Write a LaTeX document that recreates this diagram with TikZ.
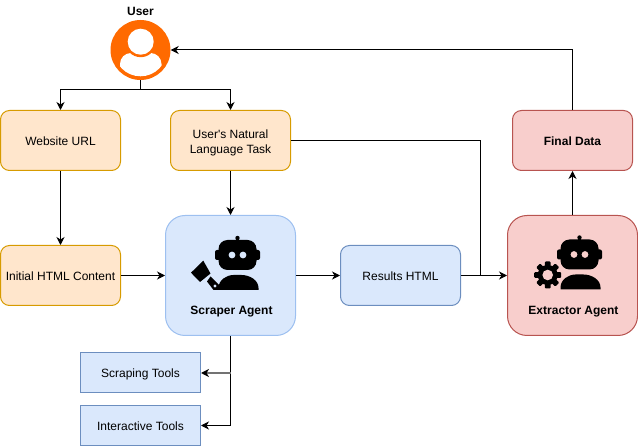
\documentclass[tikz,border=0pt]{standalone}
\usepackage{fontspec}
\setmainfont{Liberation Sans}
\usetikzlibrary{arrows.meta}
\definecolor{inputfill}{HTML}{FFE6CC}
\definecolor{inputline}{HTML}{D79B00}
\definecolor{bluefill}{HTML}{DAE8FC}
\definecolor{blueline}{HTML}{6C8EBF}
\definecolor{agentline}{HTML}{9DC0F0}
\definecolor{redfill}{HTML}{F8CECC}
\definecolor{redline}{HTML}{B85450}
\definecolor{useroange}{HTML}{FF6A00}
\tikzset{
    box/.style={draw, line width=1pt, minimum width=120pt, minimum height=60pt, rounded corners=9pt, align=center, inner sep=0pt, font=\fontsize{12}{15}\selectfont, execute at begin node={\rule{0pt}{11pt}}},
    inputbox/.style={box, fill=inputfill, draw=inputline},
    bluebox/.style={box, fill=bluefill, draw=blueline},
    redbox/.style={box, fill=redfill, draw=redline},
    toolbox/.style={bluebox, rounded corners=0pt, minimum height=40pt},
    agentbox/.style={box, minimum width=130pt, minimum height=120pt, rounded corners=19.5pt},
    boldtext/.style={inner sep=0pt, font=\fontsize{12}{15}\selectfont\bfseries},
    wire/.style={line width=1pt, black},
    link/.style={wire, -{Stealth[length=8pt,width=8pt,inset=2.5pt]}},
    pics/robot/.style={code={
        \fill[rounded corners=9pt] (-19,-15) rectangle (19,15);
        \fill[rounded corners=2pt] (-22.5,-5) rectangle (22.5,5);
        \fill (0,-17) circle (2.2pt);
        \fill (-1.2,-18) rectangle (1.2,-13);
        \fill[#1] (-5.5,0) circle (3.4pt);
        \fill[#1] (5.5,0) circle (3.4pt);
        \fill (-19,35) -- (-19,33) .. controls (-19,25) and (-11,20) .. (-4,20) -- (4,20) .. controls (12,20) and (21,25) .. (21,33) -- (21,35) -- cycle;
    }},
}
\begin{document}
\begin{tikzpicture}[x=1pt, y=-1pt]
    \useasboundingbox (0,0) rectangle (638,446);

    % top row
    \node[boldtext] (userlabel) at (140.5,11) {User};
    \node[circle, fill=useroange, minimum size=60pt, inner sep=0pt] (user) at (140.5,50) {};
    \begin{scope}
        \clip (140.5,50) circle (26.3pt);
        \fill[white, rounded corners=11pt] (120,53) rectangle (161.5,85);
    \end{scope}
    \fill[useroange] (140.7,41.7) circle (15.5pt);
    \fill[white] (140.7,41.7) circle (13pt);

    \node[inputbox] (url) at (60.5,140.5) {Website URL};
    \node[inputbox] (task) at (230.5,140.5) {\rule{0pt}{14pt}User\textquotesingle s Natural\\Language Task};
    \node[redbox] (final) at (572.5,140.5) {\bfseries Final Data};

    % middle row
    \node[inputbox] (html) at (60.5,275.5) {Initial HTML Content};
    \node[agentbox, fill=bluefill, draw=agentline] (scraper) at (230.5,275.5) {};
    \node[bluebox] (results) at (400.5,275.5) {Results HTML};
    \node[agentbox, fill=redfill, draw=redline] (extractor) at (572.5,275.5) {};
    \node[boldtext] (scraperlabel) at (231.5,311.5) {Scraper Agent};
    \node[boldtext] (extractorlabel) at (573.5,311.5) {Extractor Agent};

    % scraper icon
    \pic at (237.5,255) {robot=bluefill};
    \fill (203.3,260.7) -- (210.5,273.5) -- (200,282) -- (191,272.7) -- cycle;
    \fill (207,281.5) -- (210.5,276.5) -- (219,285) -- (219,290) -- (213.5,290) -- cycle;
    \fill[bluefill] (215,286) circle (1.6pt);

    % extractor icon
    \pic at (579.5,254.5) {robot=redfill};
    \fill[redfill] (547.7,275) circle (14.5pt);
    \fill (547.7,275) circle (10pt);
    \foreach \a in {0,45,...,315}
        \fill[shift={(547.7,275)}, rotate=\a, rounded corners=1pt] (-2.8,-13.5) rectangle (2.8,-8);
    \fill[redfill] (547.7,275) circle (5.3pt);

    % tools
    \node[toolbox] (scraping) at (140.5,373) {Scraping Tools};
    \node[toolbox] (interactive) at (140.5,425.5) {Interactive Tools};

    \coordinate (userfork) at (140.5,90);
    \coordinate (merge) at (480.5,275.5);
    \coordinate (toolfork) at (230.5,373);

    \draw[link] (user.south) -- (userfork) -| (url.north);
    \draw[link] (userfork) -| (task.north);
    \draw[link] (url.south) -- (html.north);
    \draw[link] (task.south) -- (scraper.north);
    \draw[link] (html.east) -- (scraper.west);
    \draw[link] (scraper.east) -- (results.west);
    \draw[link] (results.east) -- (extractor.west);
    \draw[wire] (task.east) -| (merge);
    \draw[link] (extractor.north) -- (final.south);
    \draw[link] (final.north) |- (user.east);
    \draw[link] (scraper.south) |- (interactive.east);
    \draw[line width=2pt, gray!90!black, -{Stealth[length=8pt,width=8pt,inset=2.5pt,black]}] (toolfork) -- (scraping.east);
\end{tikzpicture}
\end{document}
